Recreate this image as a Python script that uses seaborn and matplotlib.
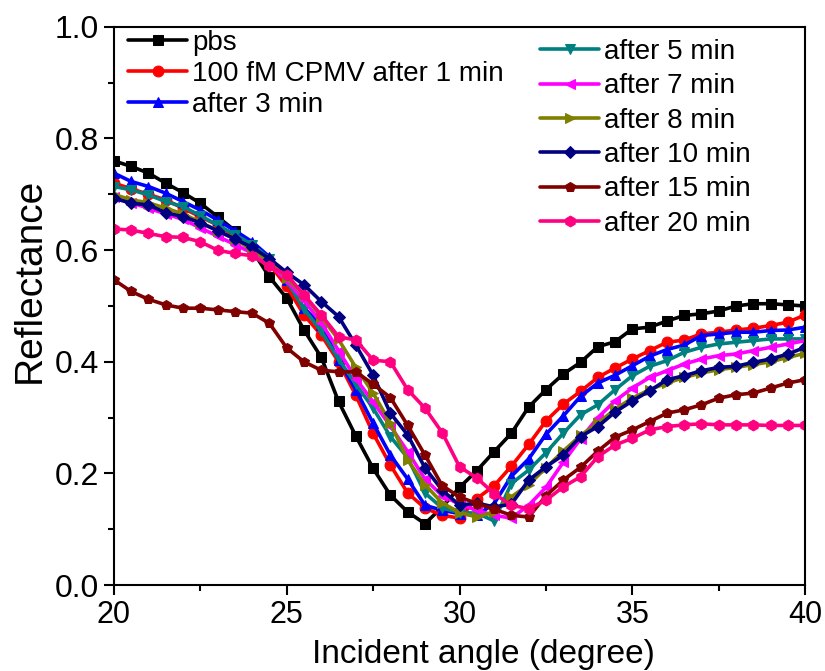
import numpy as np
import pandas as pd
import matplotlib
matplotlib.use("Agg")
import matplotlib.pyplot as plt
from matplotlib.ticker import MultipleLocator, FormatStrFormatter
import seaborn as sns

# incident angle, 0.5 degree steps
angle = np.arange(20, 40.01, 0.5)

pbs = [0.76, 0.75, 0.738, 0.72, 0.703, 0.684, 0.66, 0.635, 0.60, 0.552, 0.514,
       0.457, 0.408, 0.329, 0.267, 0.209, 0.161, 0.131, 0.11, 0.14, 0.175,
       0.205, 0.239, 0.272, 0.319, 0.35, 0.378, 0.399, 0.427, 0.436, 0.459,
       0.462, 0.473, 0.483, 0.486, 0.491, 0.5, 0.504, 0.504, 0.502, 0.5]
min1 = [0.72, 0.71, 0.70, 0.69, 0.675, 0.66, 0.645, 0.625, 0.605, 0.575, 0.535,
        0.484, 0.448, 0.40, 0.34, 0.272, 0.215, 0.165, 0.138, 0.125, 0.12,
        0.155, 0.178, 0.213, 0.252, 0.294, 0.324, 0.347, 0.372, 0.389, 0.405,
        0.42, 0.435, 0.439, 0.45, 0.453, 0.457, 0.46, 0.465, 0.471, 0.484]
min3 = [0.738, 0.723, 0.714, 0.702, 0.687, 0.672, 0.654, 0.635, 0.615, 0.588, 0.547,
        0.496, 0.466, 0.403, 0.35, 0.29, 0.233, 0.19, 0.143, 0.134, 0.128,
        0.125, 0.146, 0.195, 0.226, 0.27, 0.303, 0.338, 0.362, 0.376, 0.393,
        0.41, 0.422, 0.43, 0.447, 0.45, 0.453, 0.453, 0.456, 0.457, 0.462]
min5 = [0.714, 0.708, 0.699, 0.687, 0.678, 0.662, 0.645, 0.628, 0.61, 0.585, 0.545,
        0.495, 0.455, 0.405, 0.36, 0.317, 0.266, 0.228, 0.165, 0.138, 0.13,
        0.129, 0.115, 0.182, 0.206, 0.237, 0.272, 0.305, 0.323, 0.35, 0.375,
        0.392, 0.402, 0.417, 0.426, 0.432, 0.435, 0.438, 0.441, 0.441, 0.441]
min7 = [0.695, 0.685, 0.675, 0.665, 0.655, 0.64, 0.625, 0.61, 0.595, 0.575, 0.545,
        0.51, 0.47, 0.42, 0.37, 0.328, 0.285, 0.239, 0.19, 0.16, 0.145,
        0.134, 0.125, 0.12, 0.143, 0.175, 0.22, 0.262, 0.30, 0.33, 0.353,
        0.372, 0.384, 0.396, 0.405, 0.411, 0.414, 0.42, 0.426, 0.432, 0.438]
min8 = [0.70, 0.69, 0.685, 0.675, 0.665, 0.65, 0.635, 0.62, 0.60, 0.58, 0.55,
        0.52, 0.48, 0.44, 0.39, 0.344, 0.29, 0.224, 0.18, 0.147, 0.13,
        0.122, 0.131, 0.158, 0.18, 0.21, 0.24, 0.268, 0.29, 0.315, 0.335,
        0.35, 0.362, 0.372, 0.38, 0.386, 0.39, 0.395, 0.40, 0.408, 0.415]
min10 = [0.693, 0.684, 0.681, 0.667, 0.66, 0.649, 0.635, 0.62, 0.605, 0.585, 0.56,
         0.538, 0.508, 0.481, 0.43, 0.376, 0.308, 0.269, 0.21, 0.17, 0.143,
         0.147, 0.14, 0.145, 0.188, 0.212, 0.233, 0.266, 0.284, 0.31, 0.33,
         0.348, 0.368, 0.375, 0.384, 0.39, 0.392, 0.399, 0.405, 0.414, 0.426]
min15 = [0.547, 0.526, 0.512, 0.502, 0.496, 0.496, 0.493, 0.49, 0.487, 0.469, 0.425,
         0.40, 0.385, 0.382, 0.382, 0.36, 0.336, 0.286, 0.233, 0.178, 0.158,
         0.146, 0.136, 0.125, 0.122, 0.16, 0.188, 0.211, 0.24, 0.265, 0.278,
         0.293, 0.308, 0.314, 0.323, 0.335, 0.341, 0.344, 0.353, 0.362, 0.368]
min20 = [0.638, 0.636, 0.63, 0.624, 0.623, 0.615, 0.60, 0.594, 0.59, 0.571, 0.556,
         0.52, 0.484, 0.445, 0.439, 0.403, 0.40, 0.35, 0.317, 0.273, 0.212,
         0.192, 0.164, 0.143, 0.137, 0.152, 0.176, 0.194, 0.23, 0.251, 0.263,
         0.278, 0.284, 0.287, 0.289, 0.287, 0.287, 0.287, 0.286, 0.286, 0.286]

labels = ['pbs', '100 fM CPMV after 1 min', 'after 3 min', 'after 5 min',
          'after 7 min', 'after 8 min', 'after 10 min', 'after 15 min',
          'after 20 min']
series = [pbs, min1, min3, min5, min7, min8, min10, min15, min20]
colors = ['#000000', '#FF0000', '#0000FF', '#008080', '#FF00FF', '#808000',
          '#000080', '#800000', '#FF0080']
markers = ['s', 'o', '^', 'v', '<', '>', 'D', 'p', 'h']

df = pd.concat([pd.DataFrame({'angle': angle, 'R': vals, 'sample': lab})
                for lab, vals in zip(labels, series)], ignore_index=True)

sns.set_style('ticks')
plt.rcParams['font.family'] = ['Liberation Sans', 'DejaVu Sans']
for key in ['text.color', 'axes.labelcolor', 'xtick.color', 'ytick.color', 'axes.edgecolor']:
    plt.rcParams[key] = 'black'

fig = plt.figure(figsize=(8.25, 6.71), dpi=100)
ax = fig.add_axes([0.138, 0.128, 0.838, 0.832])

for lab, col, mk in zip(labels, colors, markers):
    sns.lineplot(data=df[df['sample'] == lab], x='angle', y='R', ax=ax,
                 color=col, marker=mk, markersize=7.8 if mk != 'D' else 6.5,
                 markeredgecolor=col, linewidth=2.6, label=lab, errorbar=None)

ax.set_xlim(20, 40)
ax.set_ylim(0, 1.0)
ax.xaxis.set_major_locator(MultipleLocator(5))
ax.xaxis.set_minor_locator(MultipleLocator(2.5))
ax.yaxis.set_major_locator(MultipleLocator(0.2))
ax.yaxis.set_minor_locator(MultipleLocator(0.1))
ax.yaxis.set_major_formatter(FormatStrFormatter('%.1f'))
ax.tick_params(which='major', direction='out', length=7, width=1.5)
ax.tick_params(which='minor', direction='out', length=4, width=1.5)
ax.tick_params(axis='y', labelsize=23)
ax.tick_params(axis='x', labelsize=22)
for sp in ax.spines.values():
    sp.set_linewidth(1.5)
    sp.set_visible(True)
ax.set_xlabel('Incident angle (degree)', fontsize=24, labelpad=7, x=0.535)
ax.set_ylabel('Reflectance', fontsize=28, labelpad=5, y=0.545)

handles, labs = ax.get_legend_handles_labels()
leg1 = ax.legend(handles[:3], labs[:3], loc='upper left', bbox_to_anchor=(-0.003, 1.025),
                 frameon=False, fontsize=20, handlelength=2.1, handletextpad=0.2,
                 labelspacing=0.18, borderaxespad=0.2)
ax.add_artist(leg1)
ax.legend(handles[3:], labs[3:], loc='upper left', bbox_to_anchor=(0.593, 1.008),
          frameon=False, fontsize=20, handlelength=2.1, handletextpad=0.2,
          labelspacing=0.3, borderaxespad=0.2)

fig.savefig('out.png', dpi=100)
